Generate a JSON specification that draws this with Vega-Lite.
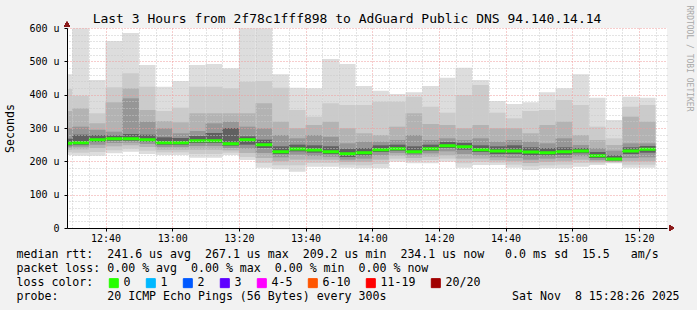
{
  "$schema": "https://vega.github.io/schema/vega-lite/v6.json",
  "width": 600,
  "height": 200,
  "autosize": "none",
  "padding": {"left": 67, "top": 28, "right": 30, "bottom": 82},
  "background": "#f2f2f2",
  "config": {"view": {"fill": "white", "stroke": null}},
  "title": {"text": "Last 3 Hours from 2f78c1fff898 to AdGuard Public DNS 94.140.14.14", "font": "DejaVu Sans Mono", "fontSize": 13, "fontWeight": "normal", "color": "black", "anchor": "middle", "frame": "group", "dx": -20, "dy": 35, "baseline": "alphabetic", "offset": 4},
  "datasets": {
    "smoke": [
      {"t": "2025-11-08T12:25:00", "t2": "2025-11-08T12:30:00", "mn": 219, "l1": 227, "l2": 235, "l3": 242, "l4": 248, "md": 254, "h4": 268, "h3": 300, "h2": 351, "h1": 417, "mx": 461, "loss": "0"},
      {"t": "2025-11-08T12:30:00", "t2": "2025-11-08T12:35:00", "mn": 217, "l1": 226, "l2": 236, "l3": 244, "l4": 250, "md": 256, "h4": 280, "h3": 304, "h2": 359, "h1": 397, "mx": 599, "loss": "0"},
      {"t": "2025-11-08T12:35:00", "t2": "2025-11-08T12:40:00", "mn": 217, "l1": 228, "l2": 240, "l3": 250, "l4": 258, "md": 265, "h4": 279, "h3": 295, "h2": 314, "h1": 344, "mx": 444, "loss": "0"},
      {"t": "2025-11-08T12:40:00", "t2": "2025-11-08T12:45:00", "mn": 224, "l1": 233, "l2": 245, "l3": 255, "l4": 262, "md": 268, "h4": 278, "h3": 289, "h2": 377, "h1": 422, "mx": 561, "loss": "0"},
      {"t": "2025-11-08T12:45:00", "t2": "2025-11-08T12:50:00", "mn": 229, "l1": 238, "l2": 248, "l3": 256, "l4": 262, "md": 268, "h4": 282, "h3": 389, "h2": 419, "h1": 464, "mx": 585, "loss": "0"},
      {"t": "2025-11-08T12:50:00", "t2": "2025-11-08T12:55:00", "mn": 222, "l1": 232, "l2": 243, "l3": 252, "l4": 259, "md": 265, "h4": 280, "h3": 319, "h2": 354, "h1": 424, "mx": 489, "loss": "0"},
      {"t": "2025-11-08T12:55:00", "t2": "2025-11-08T13:00:00", "mn": 219, "l1": 227, "l2": 235, "l3": 243, "l4": 250, "md": 256, "h4": 272, "h3": 299, "h2": 321, "h1": 351, "mx": 424, "loss": "0"},
      {"t": "2025-11-08T13:00:00", "t2": "2025-11-08T13:05:00", "mn": 219, "l1": 227, "l2": 235, "l3": 243, "l4": 250, "md": 256, "h4": 270, "h3": 284, "h2": 317, "h1": 361, "mx": 441, "loss": "0"},
      {"t": "2025-11-08T13:05:00", "t2": "2025-11-08T13:10:00", "mn": 211, "l1": 222, "l2": 235, "l3": 246, "l4": 255, "md": 262, "h4": 276, "h3": 291, "h2": 344, "h1": 424, "mx": 489, "loss": "0"},
      {"t": "2025-11-08T13:10:00", "t2": "2025-11-08T13:15:00", "mn": 211, "l1": 222, "l2": 235, "l3": 246, "l4": 255, "md": 262, "h4": 285, "h3": 314, "h2": 344, "h1": 424, "mx": 492, "loss": "0"},
      {"t": "2025-11-08T13:15:00", "t2": "2025-11-08T13:20:00", "mn": 219, "l1": 226, "l2": 233, "l3": 240, "l4": 247, "md": 253, "h4": 300, "h3": 319, "h2": 344, "h1": 419, "mx": 479, "loss": "0"},
      {"t": "2025-11-08T13:20:00", "t2": "2025-11-08T13:25:00", "mn": 204, "l1": 213, "l2": 225, "l3": 238, "l4": 250, "md": 265, "h4": 275, "h3": 304, "h2": 344, "h1": 439, "mx": 599, "loss": "0"},
      {"t": "2025-11-08T13:25:00", "t2": "2025-11-08T13:30:00", "mn": 181, "l1": 195, "l2": 210, "l3": 225, "l4": 240, "md": 250, "h4": 265, "h3": 299, "h2": 374, "h1": 441, "mx": 599, "loss": "0"},
      {"t": "2025-11-08T13:30:00", "t2": "2025-11-08T13:35:00", "mn": 176, "l1": 188, "l2": 200, "l3": 212, "l4": 222, "md": 229, "h4": 245, "h3": 279, "h2": 319, "h1": 421, "mx": 461, "loss": "0"},
      {"t": "2025-11-08T13:35:00", "t2": "2025-11-08T13:40:00", "mn": 169, "l1": 188, "l2": 205, "l3": 220, "l4": 230, "md": 237, "h4": 250, "h3": 269, "h2": 299, "h1": 354, "mx": 421, "loss": "0"},
      {"t": "2025-11-08T13:40:00", "t2": "2025-11-08T13:45:00", "mn": 184, "l1": 195, "l2": 205, "l3": 216, "l4": 226, "md": 234, "h4": 248, "h3": 279, "h2": 309, "h1": 334, "mx": 419, "loss": "0"},
      {"t": "2025-11-08T13:45:00", "t2": "2025-11-08T13:50:00", "mn": 184, "l1": 195, "l2": 205, "l3": 214, "l4": 222, "md": 229, "h4": 245, "h3": 274, "h2": 319, "h1": 374, "mx": 507, "loss": "0"},
      {"t": "2025-11-08T13:50:00", "t2": "2025-11-08T13:55:00", "mn": 181, "l1": 190, "l2": 198, "l3": 205, "l4": 213, "md": 223, "h4": 238, "h3": 254, "h2": 299, "h1": 369, "mx": 492, "loss": "0"},
      {"t": "2025-11-08T13:55:00", "t2": "2025-11-08T14:00:00", "mn": 179, "l1": 188, "l2": 198, "l3": 208, "l4": 218, "md": 226, "h4": 240, "h3": 259, "h2": 284, "h1": 369, "mx": 426, "loss": "0"},
      {"t": "2025-11-08T14:00:00", "t2": "2025-11-08T14:05:00", "mn": 179, "l1": 192, "l2": 205, "l3": 218, "l4": 228, "md": 235, "h4": 248, "h3": 259, "h2": 279, "h1": 379, "mx": 412, "loss": "0"},
      {"t": "2025-11-08T14:05:00", "t2": "2025-11-08T14:10:00", "mn": 199, "l1": 208, "l2": 217, "l3": 225, "l4": 232, "md": 238, "h4": 250, "h3": 264, "h2": 304, "h1": 379, "mx": 402, "loss": "0"},
      {"t": "2025-11-08T14:10:00", "t2": "2025-11-08T14:15:00", "mn": 194, "l1": 202, "l2": 210, "l3": 218, "l4": 224, "md": 229, "h4": 245, "h3": 279, "h2": 344, "h1": 394, "mx": 407, "loss": "0"},
      {"t": "2025-11-08T14:15:00", "t2": "2025-11-08T14:20:00", "mn": 194, "l1": 204, "l2": 214, "l3": 224, "l4": 232, "md": 238, "h4": 250, "h3": 264, "h2": 312, "h1": 364, "mx": 426, "loss": "0"},
      {"t": "2025-11-08T14:20:00", "t2": "2025-11-08T14:25:00", "mn": 199, "l1": 208, "l2": 218, "l3": 230, "l4": 240, "md": 247, "h4": 258, "h3": 269, "h2": 309, "h1": 346, "mx": 451, "loss": "0"},
      {"t": "2025-11-08T14:25:00", "t2": "2025-11-08T14:30:00", "mn": 181, "l1": 194, "l2": 208, "l3": 222, "l4": 235, "md": 244, "h4": 255, "h3": 264, "h2": 299, "h1": 399, "mx": 481, "loss": "0"},
      {"t": "2025-11-08T14:30:00", "t2": "2025-11-08T14:35:00", "mn": 189, "l1": 198, "l2": 208, "l3": 218, "l4": 228, "md": 235, "h4": 248, "h3": 269, "h2": 309, "h1": 429, "mx": 444, "loss": "0"},
      {"t": "2025-11-08T14:35:00", "t2": "2025-11-08T14:40:00", "mn": 189, "l1": 196, "l2": 203, "l3": 212, "l4": 222, "md": 231, "h4": 245, "h3": 259, "h2": 299, "h1": 346, "mx": 381, "loss": "0"},
      {"t": "2025-11-08T14:40:00", "t2": "2025-11-08T14:45:00", "mn": 181, "l1": 190, "l2": 200, "l3": 210, "l4": 222, "md": 231, "h4": 248, "h3": 264, "h2": 299, "h1": 329, "mx": 372, "loss": "0"},
      {"t": "2025-11-08T14:45:00", "t2": "2025-11-08T14:50:00", "mn": 174, "l1": 185, "l2": 195, "l3": 205, "l4": 218, "md": 228, "h4": 242, "h3": 259, "h2": 284, "h1": 351, "mx": 377, "loss": "0"},
      {"t": "2025-11-08T14:50:00", "t2": "2025-11-08T14:55:00", "mn": 179, "l1": 188, "l2": 198, "l3": 208, "l4": 218, "md": 226, "h4": 240, "h3": 254, "h2": 309, "h1": 354, "mx": 407, "loss": "0"},
      {"t": "2025-11-08T14:55:00", "t2": "2025-11-08T15:00:00", "mn": 179, "l1": 190, "l2": 200, "l3": 210, "l4": 220, "md": 229, "h4": 242, "h3": 269, "h2": 319, "h1": 384, "mx": 419, "loss": "0"},
      {"t": "2025-11-08T15:00:00", "t2": "2025-11-08T15:05:00", "mn": 184, "l1": 195, "l2": 205, "l3": 215, "l4": 224, "md": 231, "h4": 240, "h3": 249, "h2": 279, "h1": 369, "mx": 461, "loss": "0"},
      {"t": "2025-11-08T15:05:00", "t2": "2025-11-08T15:10:00", "mn": 189, "l1": 194, "l2": 199, "l3": 204, "l4": 210, "md": 217, "h4": 228, "h3": 240, "h2": 264, "h1": 304, "mx": 391, "loss": "0"},
      {"t": "2025-11-08T15:10:00", "t2": "2025-11-08T15:15:00", "mn": 194, "l1": 196, "l2": 198, "l3": 200, "l4": 203, "md": 207, "h4": 218, "h3": 232, "h2": 249, "h1": 269, "mx": 324, "loss": "0"},
      {"t": "2025-11-08T15:15:00", "t2": "2025-11-08T15:20:00", "mn": 181, "l1": 190, "l2": 200, "l3": 210, "l4": 222, "md": 231, "h4": 242, "h3": 254, "h2": 334, "h1": 364, "mx": 394, "loss": "0"},
      {"t": "2025-11-08T15:20:00", "t2": "2025-11-08T15:25:00", "mn": 181, "l1": 190, "l2": 200, "l3": 212, "l4": 226, "md": 236, "h4": 246, "h3": 254, "h2": 319, "h1": 369, "mx": 391, "loss": "0"}
    ]
  },
  "data": {"name": "smoke"},
  "resolve": {"axis": {"x": "independent", "y": "independent"}},
  "layer": [
    {
      "mark": {"type": "rect", "color": "#dddddd", "clip": true},
      "encoding": {
        "x": {"field": "t", "type": "temporal",
          "scale": {"domain": [{"year": 2025, "month": 11, "date": 8, "hours": 12, "minutes": 28, "seconds": 26}, {"year": 2025, "month": 11, "date": 8, "hours": 15, "minutes": 28, "seconds": 26}]},
          "axis": {"orient": "top", "zindex": 1, "labels": false, "ticks": false, "domain": false, "title": null,
            "grid": true, "gridDash": [1, 2], "gridOpacity": 1, "gridColor": "#c8c8c8",
            "values": [
              {"year": 2025, "month": 11, "date": 8, "hours": 12, "minutes": 30},
              {"year": 2025, "month": 11, "date": 8, "hours": 12, "minutes": 35},
              {"year": 2025, "month": 11, "date": 8, "hours": 12, "minutes": 45},
              {"year": 2025, "month": 11, "date": 8, "hours": 12, "minutes": 50},
              {"year": 2025, "month": 11, "date": 8, "hours": 12, "minutes": 55},
              {"year": 2025, "month": 11, "date": 8, "hours": 13, "minutes": 5},
              {"year": 2025, "month": 11, "date": 8, "hours": 13, "minutes": 10},
              {"year": 2025, "month": 11, "date": 8, "hours": 13, "minutes": 15},
              {"year": 2025, "month": 11, "date": 8, "hours": 13, "minutes": 25},
              {"year": 2025, "month": 11, "date": 8, "hours": 13, "minutes": 30},
              {"year": 2025, "month": 11, "date": 8, "hours": 13, "minutes": 35},
              {"year": 2025, "month": 11, "date": 8, "hours": 13, "minutes": 45},
              {"year": 2025, "month": 11, "date": 8, "hours": 13, "minutes": 50},
              {"year": 2025, "month": 11, "date": 8, "hours": 13, "minutes": 55},
              {"year": 2025, "month": 11, "date": 8, "hours": 14, "minutes": 5},
              {"year": 2025, "month": 11, "date": 8, "hours": 14, "minutes": 10},
              {"year": 2025, "month": 11, "date": 8, "hours": 14, "minutes": 15},
              {"year": 2025, "month": 11, "date": 8, "hours": 14, "minutes": 25},
              {"year": 2025, "month": 11, "date": 8, "hours": 14, "minutes": 30},
              {"year": 2025, "month": 11, "date": 8, "hours": 14, "minutes": 35},
              {"year": 2025, "month": 11, "date": 8, "hours": 14, "minutes": 45},
              {"year": 2025, "month": 11, "date": 8, "hours": 14, "minutes": 50},
              {"year": 2025, "month": 11, "date": 8, "hours": 14, "minutes": 55},
              {"year": 2025, "month": 11, "date": 8, "hours": 15, "minutes": 5},
              {"year": 2025, "month": 11, "date": 8, "hours": 15, "minutes": 10},
              {"year": 2025, "month": 11, "date": 8, "hours": 15, "minutes": 15},
              {"year": 2025, "month": 11, "date": 8, "hours": 15, "minutes": 25}
            ]}},
        "x2": {"field": "t2"},
        "y": {"field": "mn", "type": "quantitative", "scale": {"domain": [0, 600], "nice": false},
          "axis": {"orient": "right", "zindex": 1, "labels": false, "ticks": false, "domain": false,
            "values": [20, 40, 60, 80, 120, 140, 160, 180, 220, 240, 260, 280, 320, 340, 360, 380, 420, 440, 460, 480, 520, 540, 560, 580],
            "grid": true, "gridDash": [1, 2], "gridOpacity": 1, "gridColor": "#c8c8c8",
            "title": "RRDTOOL / TOBI OETIKER", "titleFont": "DejaVu Sans Mono", "titleFontSize": 8, "titleFontWeight": "normal", "titleColor": "#a8a8a8",
            "titleAngle": 90, "titleX": 21, "titleY": 30, "titleAlign": "center", "titleBaseline": "middle"}},
        "y2": {"field": "mx"}
      }
    },
    {
      "mark": {"type": "rect", "color": "#cbcbcb", "clip": true},
      "encoding": {
        "x": {"field": "t", "type": "temporal",
          "axis": {"orient": "bottom", "zindex": 1, "format": "%H:%M",
            "values": [
              {"year": 2025, "month": 11, "date": 8, "hours": 12, "minutes": 40},
              {"year": 2025, "month": 11, "date": 8, "hours": 13, "minutes": 0},
              {"year": 2025, "month": 11, "date": 8, "hours": 13, "minutes": 20},
              {"year": 2025, "month": 11, "date": 8, "hours": 13, "minutes": 40},
              {"year": 2025, "month": 11, "date": 8, "hours": 14, "minutes": 0},
              {"year": 2025, "month": 11, "date": 8, "hours": 14, "minutes": 20},
              {"year": 2025, "month": 11, "date": 8, "hours": 14, "minutes": 40},
              {"year": 2025, "month": 11, "date": 8, "hours": 15, "minutes": 0},
              {"year": 2025, "month": 11, "date": 8, "hours": 15, "minutes": 20}
            ],
            "labelOverlap": false, "labelFlush": false, "labelFont": "DejaVu Sans Mono", "labelFontSize": 10, "labelColor": "black", "labelPadding": 2,
            "grid": true, "gridDash": [1, 2], "gridOpacity": 1, "gridColor": "#ee9a9a",
            "domainColor": "black", "tickColor": "black", "tickSize": 3,
            "title": ["median\u00a0rtt:\u00a0\u00a0241.6\u00a0us\u00a0avg\u00a0\u00a0267.1\u00a0us\u00a0max\u00a0\u00a0209.2\u00a0us\u00a0min\u00a0\u00a0234.1\u00a0us\u00a0now\u00a0\u00a0\u00a00.0\u00a0ms\u00a0sd\u00a0\u00a015.5\u00a0\u00a0\u00a0am/s", "packet\u00a0loss:\u00a00.00\u00a0%\u00a0avg\u00a0\u00a00.00\u00a0%\u00a0max\u00a0\u00a00.00\u00a0%\u00a0min\u00a0\u00a00.00\u00a0%\u00a0now", "loss\u00a0color:", "probe:\u00a0\u00a0\u00a0\u00a0\u00a0\u00a0\u00a020\u00a0ICMP\u00a0Echo\u00a0Pings\u00a0(56\u00a0Bytes)\u00a0every\u00a0300s\u00a0\u00a0\u00a0\u00a0\u00a0\u00a0\u00a0\u00a0\u00a0\u00a0\u00a0\u00a0\u00a0\u00a0\u00a0\u00a0\u00a0\u00a0Sat\u00a0Nov\u00a0\u00a08\u00a015:28:26\u00a02025"],
            "titleFont": "DejaVu Sans Mono", "titleFontSize": 11.6, "titleFontWeight": "normal", "titleColor": "black",
            "titleAlign": "left", "titleBaseline": "top", "titleX": -51, "titleY": 20, "titleLineHeight": 14}},
        "x2": {"field": "t2"},
        "y": {"field": "l1", "type": "quantitative",
          "axis": {"orient": "left", "zindex": 1, "values": [0, 100, 200, 300, 400, 500, 600],
            "labelExpr": "datum.value == 0 ? '0' : datum.value + ' u'",
            "labelFont": "DejaVu Sans Mono", "labelFontSize": 10, "labelColor": "black", "labelPadding": 5,
            "grid": true, "gridDash": [1, 2], "gridOpacity": 1, "gridColor": "#ee9a9a",
            "domainColor": "black", "tickColor": "black", "tickSize": 3,
            "title": "Seconds", "titleFont": "DejaVu Sans Mono", "titleFontSize": 11.6, "titleFontWeight": "normal", "titleColor": "black",
            "titleX": -57, "titleY": 100, "titleAlign": "center", "titleBaseline": "middle", "titleAngle": -90}},
        "y2": {"field": "h1"}
      }
    },
    {
      "mark": {"type": "rect", "color": "#b3b3b3", "clip": true},
      "encoding": {
        "x": {"field": "t", "type": "temporal", "axis": null}, "x2": {"field": "t2"},
        "y": {"field": "l2", "type": "quantitative", "axis": null}, "y2": {"field": "h2"}
      }
    },
    {
      "mark": {"type": "rect", "color": "#969696", "clip": true},
      "encoding": {
        "x": {"field": "t", "type": "temporal", "axis": null}, "x2": {"field": "t2"},
        "y": {"field": "l3", "type": "quantitative", "axis": null}, "y2": {"field": "h3"}
      }
    },
    {
      "mark": {"type": "rect", "color": "#606060", "clip": true},
      "encoding": {
        "x": {"field": "t", "type": "temporal", "axis": null}, "x2": {"field": "t2"},
        "y": {"field": "l4", "type": "quantitative", "axis": null}, "y2": {"field": "h4"}
      }
    },
    {
      "mark": {"type": "rect", "strokeWidth": 3, "clip": true},
      "encoding": {
        "x": {"field": "t", "type": "temporal", "axis": null}, "x2": {"field": "t2"},
        "y": {"field": "md", "type": "quantitative", "axis": null}, "y2": {"field": "md"},
        "fill": {"field": "loss", "type": "nominal",
          "scale": {"domain": ["0", "1", "2", "3", "4-5", "6-10", "11-19", "20/20"], "range": ["#26ff00", "#00b8ff", "#0059ff", "#5e00ff", "#ff00ff", "#ff5500", "#ff0000", "#a10000"]},
          "legend": {"orient": "none", "legendX": 41, "legendY": 249, "direction": "horizontal", "title": null,
            "symbolType": "square", "symbolSize": 81, "symbolStrokeWidth": 1, "symbolOpacity": 1,
            "labelFont": "DejaVu Sans Mono", "labelFontSize": 11.6, "labelColor": "black", "labelOffset": 4, "columnPadding": 13, "padding": 0}},
        "stroke": {"field": "loss", "type": "nominal",
          "scale": {"domain": ["0", "1", "2", "3", "4-5", "6-10", "11-19", "20/20"], "range": ["#26ff00", "#00b8ff", "#0059ff", "#5e00ff", "#ff00ff", "#ff5500", "#ff0000", "#a10000"]},
          "legend": {"orient": "none", "legendX": 41, "legendY": 249, "direction": "horizontal", "title": null,
            "symbolType": "square", "symbolSize": 81, "symbolStrokeWidth": 1, "symbolOpacity": 1,
            "labelFont": "DejaVu Sans Mono", "labelFontSize": 11.6, "labelColor": "black", "labelOffset": 4, "columnPadding": 13, "padding": 0}}
      }
    },
    {
      "mark": {"type": "point", "shape": "triangle-up", "filled": true, "color": "#8b1a1a", "size": 30, "opacity": 1},
      "encoding": {
        "x": {"datum": {"year": 2025, "month": 11, "date": 8, "hours": 12, "minutes": 28, "seconds": 26}, "type": "temporal", "axis": null},
        "y": {"datum": 612, "type": "quantitative", "axis": null}
      }
    },
    {
      "mark": {"type": "point", "shape": "triangle-right", "filled": true, "color": "#8b1a1a", "size": 30, "opacity": 1},
      "encoding": {
        "x": {"datum": {"year": 2025, "month": 11, "date": 8, "hours": 15, "minutes": 29, "seconds": 50}, "type": "temporal", "axis": null},
        "y": {"datum": 0, "type": "quantitative", "axis": null}
      }
    }
  ]
}
